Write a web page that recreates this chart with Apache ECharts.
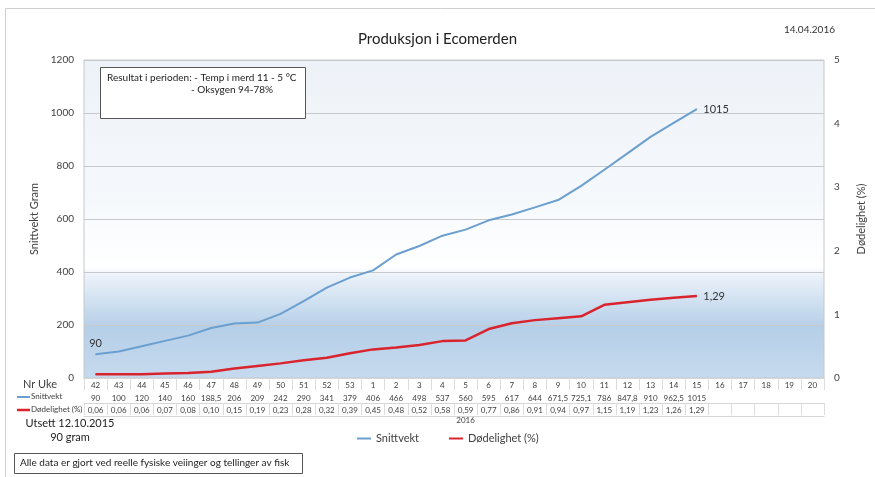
<!DOCTYPE html>
<html>
<head>
<meta charset="utf-8">
<script src="https://cdn.jsdelivr.net/npm/echarts@6/dist/echarts.min.js"></script>
<style>
html,body{margin:0;padding:0;background:#fff;}
#c{width:875px;height:477px;}
</style>
</head>
<body>
<div id="c"></div>
<script>
// ---- data ----
var weeks = ['42','43','44','45','46','47','48','49','50','51','52','53','1','2','3','4','5','6','7','8','9','10','11','12','13','14','15','16','17','18','19','20'];
var snittvekt = [90,100,120,140,160,188.5,206,209,242,290,341,379,406,466,498,537,560,595,617,644,671.5,725.1,786,847.8,910,962.5,1015,null,null,null,null,null];
var dodelighet = [0.06,0.06,0.06,0.07,0.08,0.10,0.15,0.19,0.23,0.28,0.32,0.39,0.45,0.48,0.52,0.58,0.59,0.77,0.86,0.91,0.94,0.97,1.15,1.19,1.23,1.26,1.29,null,null,null,null,null];
var leftTicks = [0,200,400,600,800,1000,1200];
var rightTicks = [0,1,2,3,4,5];

var FONT = 'Lato';
var TXT = '#404040';

var snittLabels = snittvekt.map(function(v){ return v == null ? '' : String(v).replace('.', ','); });
var dodLabels = dodelighet.map(function(v){ return v == null ? '' : v.toFixed(2).replace('.', ','); });

function lastIdx(arr){ var k = -1; arr.forEach(function(v,i){ if (v != null) k = i; }); return k; }
var lastS = lastIdx(snittvekt), lastD = lastIdx(dodelighet);

var snittData = snittvekt.map(function(v,i){
  if (i === 0) return {value:v, label:{show:true, position:'top', distance:5}};
  if (i === lastS) return {value:v, label:{show:true, position:'right', distance:6}};
  return v;
});
var dodData = dodelighet.map(function(v,i){
  if (i === lastD) return {value:v, label:{show:true, position:'right', distance:6, formatter:function(p){return p.value.toFixed(2).replace('.',',');}}};
  return v;
});

function tableAxis(data, offset, showLabel){
  return {
    type:'category', data:data, position:'bottom', offset:offset, gridIndex:0,
    axisLine:{show:true, lineStyle:{color:'#d6d6d6', width:1}},
    axisTick:{show:showLabel, length:12, lineStyle:{color:'#dcdcdc'}},
    axisLabel:{show:showLabel, interval:0, margin:3, fontFamily:FONT, fontSize:8, color:TXT},
    splitLine:{show:false}
  };
}

var chart = echarts.init(document.getElementById('c'), null, {renderer:'canvas'});
var option = {
  animation:false,
  backgroundColor:'#ffffff',
  title:{
    text:'Produksjon i Ecomerden', left:'center', top:27,
    textStyle:{fontFamily:FONT, fontSize:15, fontWeight:'normal', color:'#222'}
  },
  legend:{
    left:352, top:428, itemGap:30, itemWidth:14, itemHeight:2, icon:'rect',
    textStyle:{fontFamily:FONT, fontSize:11, color:TXT},
    data:['Snittvekt','Dødelighet (%)']
  },
  grid:{
    left:84, right:46, top:60, bottom:99, show:true,
    borderColor:'#c4c8cc', borderWidth:1,
    backgroundColor:{type:'linear', x:0, y:0, x2:0, y2:1, colorStops:[
      {offset:0, color:'#edf2f8'},
      {offset:0.45, color:'#f6f9fc'},
      {offset:0.65, color:'#ffffff'},
      {offset:0.68, color:'#eaf1f9'},
      {offset:0.84, color:'#b5cfe8'},
      {offset:1, color:'#c6daee'}
    ]}
  },
  xAxis:[
    tableAxis(weeks, 0, true),
    tableAxis(snittLabels, 13, true),
    tableAxis(dodLabels, 25, true),
    tableAxis(weeks.map(function(){return '';}), 38, false)
  ],
  yAxis:[
    {
      type:'value', min:leftTicks[0], max:leftTicks[leftTicks.length-1], interval:200,
      name:'Snittvekt Gram', nameLocation:'middle', nameGap:44, nameRotate:90,
      nameTextStyle:{fontFamily:FONT, fontSize:11, color:TXT},
      axisLine:{show:false}, axisTick:{show:false},
      axisLabel:{fontFamily:FONT, fontSize:10, color:TXT, margin:10, formatter:function(v){return String(v);}},
      splitLine:{show:true, lineStyle:{color:'#c6cace', width:1}}
    },
    {
      type:'value', min:rightTicks[0], max:rightTicks[rightTicks.length-1], interval:1, position:'right',
      name:'Dødelighet (%)', nameLocation:'middle', nameGap:32, nameRotate:90,
      nameTextStyle:{fontFamily:FONT, fontSize:11, color:TXT},
      axisLine:{show:false}, axisTick:{show:false},
      axisLabel:{fontFamily:FONT, fontSize:10, color:TXT, margin:10},
      splitLine:{show:false}
    }
  ],
  series:[
    {
      name:'Snittvekt', type:'line', xAxisIndex:0, yAxisIndex:0, data:snittData,
      symbol:'circle', symbolSize:1, showSymbol:true, connectNulls:false,
      lineStyle:{color:'#6b9fcf', width:2}, itemStyle:{color:'#6b9fcf'},
      label:{show:false, fontFamily:FONT, fontSize:11, color:'#333'}
    },
    {
      name:'Dødelighet (%)', type:'line', xAxisIndex:0, yAxisIndex:1, data:dodData,
      symbol:'circle', symbolSize:1, showSymbol:true, connectNulls:false,
      lineStyle:{color:'#d9232d', width:2.5}, itemStyle:{color:'#d9232d'},
      label:{show:false, fontFamily:FONT, fontSize:11, color:'#333'}
    }
  ]
};
chart.setOption(option);

var yearX = chart.convertToPixel({xAxisIndex:0}, 16);

chart.setOption({
  graphic:[
    {type:'rect', shape:{x:5.5, y:8.5, width:880, height:490}, style:{fill:null, stroke:'#cfcfcf', lineWidth:1}, silent:true, z:-10},
    {type:'text', x:835, y:25, style:{text:'14.04.2016', font:'10px ' + FONT, fill:'#333', textAlign:'right'}},
    {type:'rect', shape:{x:100.5, y:67.5, width:205, height:51}, style:{fill:'#ffffff', stroke:'#555', lineWidth:1}, z:5},
    {type:'text', x:107, y:73, z:6, style:{text:'Resultat i perioden: - Temp i merd 11 - 5 °C', font:'10px ' + FONT, fill:'#222'}},
    {type:'text', x:191, y:85, z:6, style:{text:'- Oksygen 94-78%', font:'10px ' + FONT, fill:'#222'}},
    {type:'text', x:40, y:379, style:{text:'Nr Uke', font:'11px ' + FONT, fill:TXT, textAlign:'center'}},
    {type:'line', shape:{x1:17, y1:397, x2:30, y2:397}, style:{stroke:'#6b9fcf', lineWidth:2}},
    {type:'text', x:31, y:392.5, style:{text:'Snittvekt', font:'8px ' + FONT, fill:TXT}},
    {type:'line', shape:{x1:17, y1:410, x2:30, y2:410}, style:{stroke:'#d9232d', lineWidth:2.5}},
    {type:'text', x:31, y:405.5, style:{text:'Dødelighet (%)', font:'8px ' + FONT, fill:TXT}},
    {type:'text', x:yearX, y:416, style:{text:'2016', font:'8px ' + FONT, fill:TXT, textAlign:'center'}},
    {type:'text', x:70, y:418, style:{text:'Utsett 12.10.2015', font:'11px ' + FONT, fill:'#222', textAlign:'center'}},
    {type:'text', x:70, y:432, style:{text:'90 gram', font:'11px ' + FONT, fill:'#222', textAlign:'center'}},
    {type:'rect', shape:{x:14.5, y:453.5, width:288, height:20}, style:{fill:'#fff', stroke:'#555', lineWidth:1}},
    {type:'text', x:20, y:458, style:{text:'Alle data er gjort ved reelle fysiske veiinger og tellinger av fisk', font:'10px ' + FONT, fill:'#222'}}
  ]
});
</script>
</body>
</html>
